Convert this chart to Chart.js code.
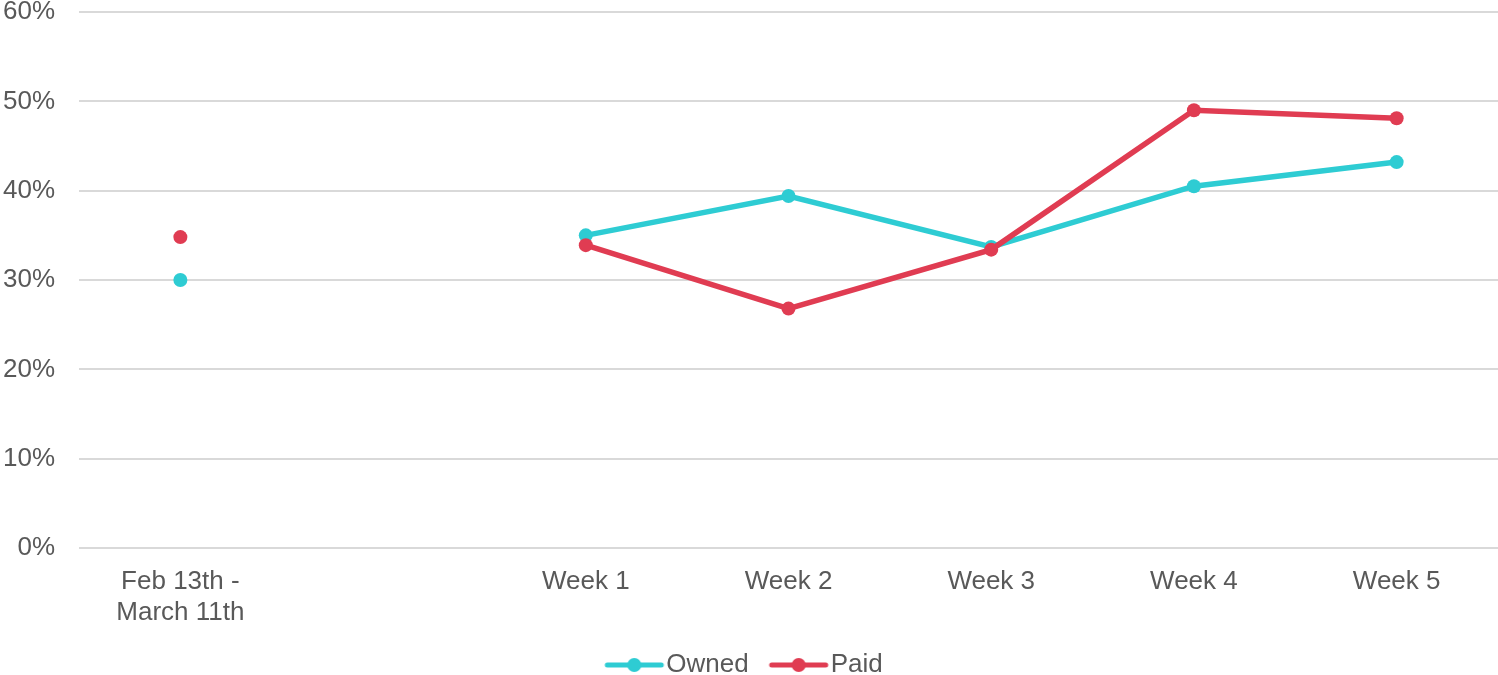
<!DOCTYPE html>
<html>
<head>
<meta charset="utf-8">
<script src="https://cdn.jsdelivr.net/npm/chart.js@4"></script>
<style>
  html, body { margin: 0; padding: 0; background: #fff; }
  #wrap { width: 1498px; height: 675px; }
</style>
</head>
<body>
<div id="wrap"><canvas id="myChart"></canvas></div>
<script>
const categories = [["Feb 13th -", "March 11th"], "", "Week 1", "Week 2", "Week 3", "Week 4", "Week 5"];
const ownedValues = [30.0, null, 35.0, 39.4, 33.7, 40.5, 43.2];
const paidValues = [34.8, null, 33.9, 26.8, 33.4, 49.0, 48.1];
const yTicks = [0, 10, 20, 30, 40, 50, 60];

const ownedColor = "#2ECCD3";
const paidColor = "#E03C52";
const textColor = "#595959";

// legend marker: line with a dot in the middle
function legendMarker(color) {
  const c = document.createElement("canvas");
  c.width = 62;
  c.height = 16;
  const ctx = c.getContext("2d");
  ctx.strokeStyle = color;
  ctx.lineWidth = 5;
  ctx.lineCap = "round";
  ctx.beginPath();
  ctx.moveTo(4, 8);
  ctx.lineTo(58, 8);
  ctx.stroke();
  ctx.fillStyle = color;
  ctx.beginPath();
  ctx.arc(31, 8, 7, 0, Math.PI * 2);
  ctx.fill();
  return c;
}
const markers = [legendMarker(ownedColor), legendMarker(paidColor)];

Chart.defaults.font.family = "'Liberation Sans', Arial, sans-serif";
Chart.defaults.font.size = 26;
Chart.defaults.color = textColor;

new Chart("myChart", {
  type: "line",
  data: {
    labels: categories,
    datasets: [{
      label: "Owned",
      data: ownedValues,
      borderColor: ownedColor,
      backgroundColor: ownedColor,
      borderWidth: 5.5,
      pointRadius: 7,
      pointHoverRadius: 7,
      pointBorderWidth: 0,
      spanGaps: false,
      order: 1
    }, {
      label: "Paid",
      data: paidValues,
      borderColor: paidColor,
      backgroundColor: paidColor,
      borderWidth: 5.5,
      pointRadius: 7,
      pointHoverRadius: 7,
      pointBorderWidth: 0,
      spanGaps: false,
      order: 0
    }]
  },
  options: {
    responsive: true,
    maintainAspectRatio: false,
    animation: false,
    layout: { autoPadding: false, padding: 0 },
    plugins: {
      tooltip: { enabled: false },
      legend: {
        position: "bottom",
        maxHeight: 54,
        labels: {
          usePointStyle: true,
          pointStyleWidth: 38,
          padding: 31,
          color: textColor,
          font: { size: 26 },
          sort: (a, b) => a.datasetIndex - b.datasetIndex,
          generateLabels: chart => {
            const items = Chart.defaults.plugins.legend.labels.generateLabels(chart);
            items.forEach(it => { it.pointStyle = markers[it.datasetIndex]; });
            return items;
          }
        }
      }
    },
    scales: {
      x: {
        offset: true,
        afterFit: axis => { axis.height = 73; },
        grid: { display: false },
        border: { display: false },
        ticks: { padding: 10, maxRotation: 0, autoSkip: false }
      },
      y: {
        min: 0,
        max: 60,
        afterBuildTicks: axis => { axis.ticks = yTicks.map(v => ({ value: v })); },
        afterFit: axis => {
          axis.width = 79;
          axis.paddingTop = 12;
          axis.paddingBottom = 0;
        },
        grid: { color: "#D9D9D9", lineWidth: 2, drawTicks: true, tickLength: 24, tickColor: "transparent" },
        border: { display: false },
        ticks: { padding: 0, callback: v => v + "%" }
      }
    }
  }
});
</script>
</body>
</html>
